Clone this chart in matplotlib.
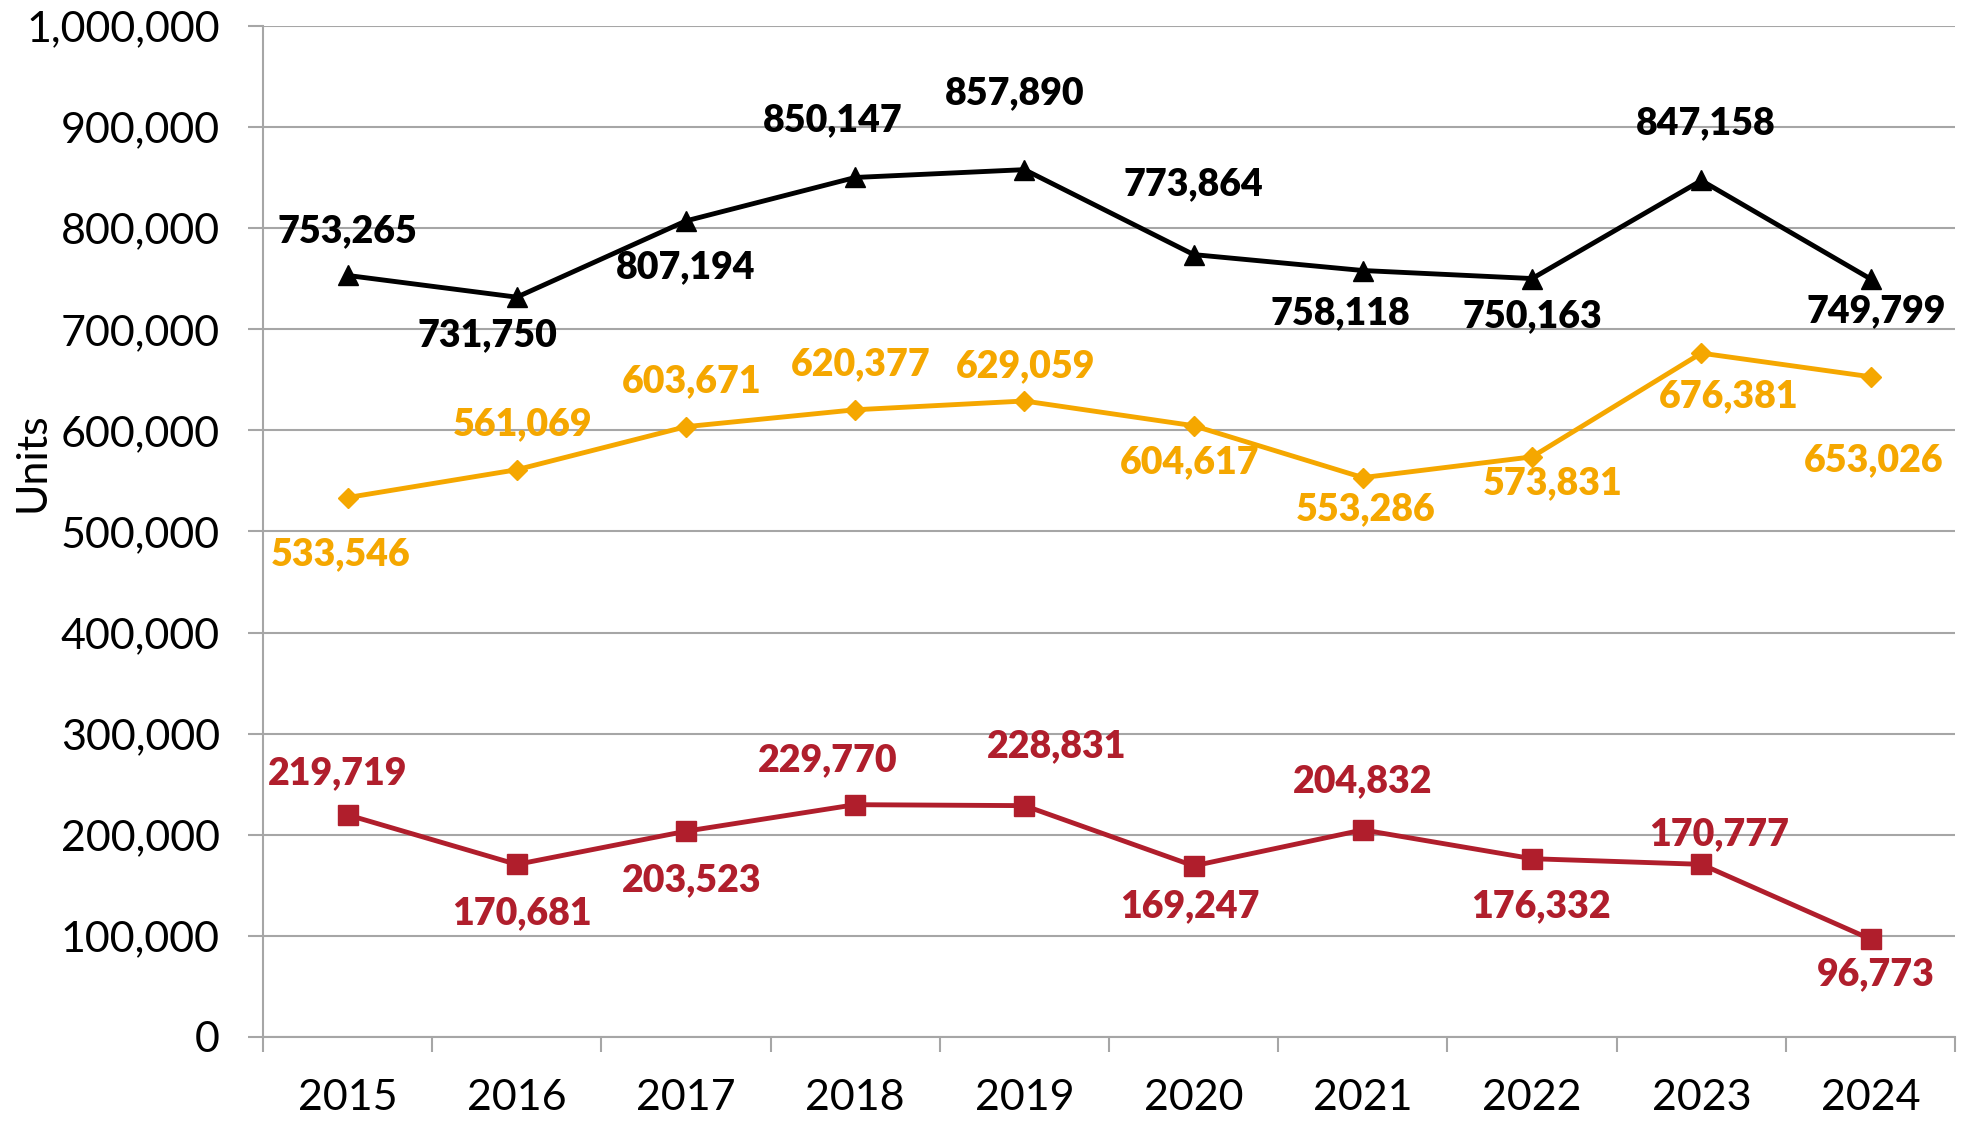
import matplotlib
matplotlib.use("Agg")
import matplotlib.pyplot as plt
from matplotlib.ticker import FuncFormatter, FixedLocator
import numpy as np

plt.rcParams["font.family"] = ["Lato", "DejaVu Sans"]

years = ["2015", "2016", "2017", "2018", "2019", "2020", "2021", "2022", "2023", "2024"]
total = [753265, 731750, 807194, 850147, 857890, 773864, 758118, 750163, 847158, 749799]
middle = [533546, 561069, 603671, 620377, 629059, 604617, 553286, 573831, 676381, 653026]
lower = [219719, 170681, 203523, 229770, 228831, 169247, 204832, 176332, 170777, 96773]

# label offsets (points) relative to each marker
off_total = [(0, 32), (-21, -27), (0, -33), (-16, 41), (-7, 55), (0, 51), (-16, -31), (0, -27), (3, 41), (4, -23)]
off_middle = [(-5, -41), (4, 33), (4, 33), (4, 33), (1, 25), (-3, -26), (2, -23), (15, -19), (20, -31), (2, -60)]
off_lower = [(-7, 30), (4, -35), (4, -35), (-20, 32), (23, 43), (-3, -29), (0, 35), (6, -34), (13, 22), (4, -25)]

BLACK = "#000000"
ORANGE = "#F5A700"
RED = "#B01E2C"
GRID = "#A6A6A6"

fig = plt.figure(figsize=(19.65, 11.29), dpi=100)
ax = fig.add_axes([0.1338, 0.0815, 0.8612, 0.8955])

x = np.arange(len(years))
series = [
    (total, BLACK, "^", 14, off_total),
    (middle, ORANGE, "D", 10, off_middle),
    (lower, RED, "s", 14, off_lower),
]
for vals, col, mk, ms, offs in series:
    ax.plot(x, vals, color=col, lw=3.5, marker=mk, ms=ms, zorder=3)
    for xi, v, (dx, dy) in zip(x, vals, offs):
        ax.annotate(f"{v:,}", (xi, v), xytext=(dx, dy), textcoords="offset points",
                    ha="center", va="center", fontsize=27, fontweight="heavy", color=col)

ax.set_xlim(-0.5, len(years) - 0.5)
ax.set_ylim(0, 1000000)
ax.set_yticks(np.arange(0, 1000001, 100000))
ax.yaxis.set_major_formatter(FuncFormatter(lambda v, p: f"{int(v):,}"))
ax.set_xticks(x)
ax.set_xticklabels(years)
ax.xaxis.set_minor_locator(FixedLocator(np.arange(-0.5, len(years), 1.0)))

ax.grid(axis="y", color=GRID, lw=1.5, zorder=0)
for s in ["top", "right"]:
    ax.spines[s].set_visible(False)
for s in ["left", "bottom"]:
    ax.spines[s].set_color(GRID)
    ax.spines[s].set_linewidth(1.5)

ax.tick_params(axis="y", length=11, width=1.5, color=GRID, pad=20, labelsize=31)
ax.tick_params(axis="x", which="major", length=0, pad=30, labelsize=31)
ax.tick_params(axis="x", which="minor", length=11, width=1.5, color=GRID)

ax.set_ylabel("Units", fontsize=31)
ax.yaxis.set_label_coords(-0.125, 0.569)

fig.savefig("out.png", dpi=100, facecolor="white")
